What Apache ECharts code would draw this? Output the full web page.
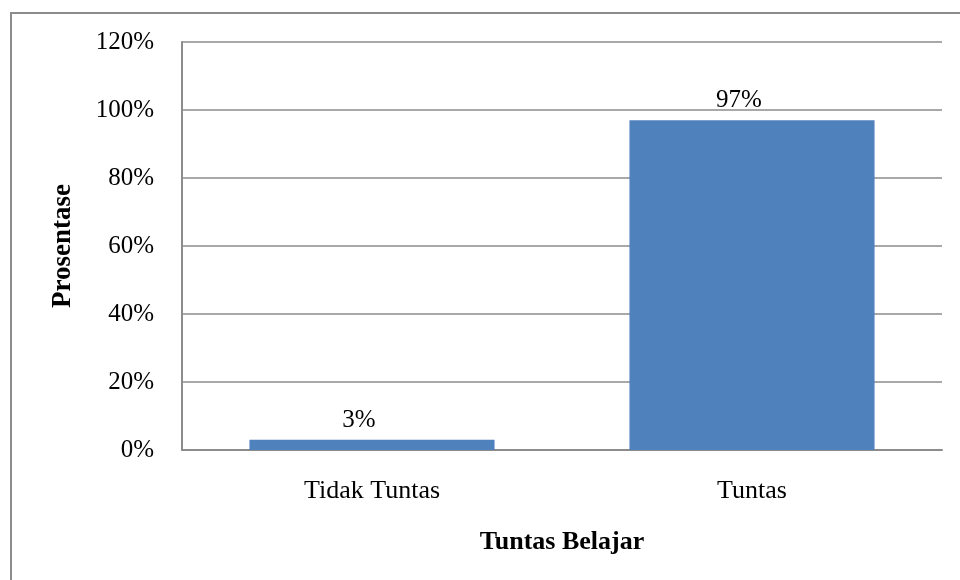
<!DOCTYPE html>
<html><head><meta charset="utf-8">
<script src="https://cdn.jsdelivr.net/npm/echarts@6/dist/echarts.min.js"></script>
<style>html,body{margin:0;padding:0;background:#fff}#c{width:960px;height:580px}</style>
</head><body><div id="c"></div>
<script>
const categories = ['Tidak Tuntas', 'Tuntas'];
const values = [3, 97];
const yTicks = [0, 20, 40, 60, 80, 100, 120];

const chart = echarts.init(document.getElementById('c'), null, {renderer: 'canvas'});
const F = '"Liberation Serif", "Times New Roman", serif';
chart.setOption({
  animation: false,
  textStyle: {fontFamily: F},
  graphic: [{
    type: 'polyline', silent: true,
    shape: {points: [[11, 580], [11, 13], [960, 13]]},
    style: {stroke: '#8c8c8c', lineWidth: 2, fill: null}
  }],
  grid: {left: 182, right: 18, top: 42, bottom: 130},
  xAxis: {
    type: 'category', data: categories,
    axisTick: {show: false},
    axisLine: {lineStyle: {color: '#8c8c8c', width: 2}},
    axisLabel: {color: '#000', fontSize: 26, fontFamily: F, margin: 28},
    name: 'Tuntas Belajar', nameLocation: 'middle', nameGap: 79,
    nameTextStyle: {color: '#000', fontSize: 26, fontWeight: 'bold', fontFamily: F}
  },
  yAxis: {
    type: 'value', min: 0, max: 120, interval: 20,
    axisLine: {show: true, lineStyle: {color: '#8c8c8c', width: 2}},
    axisTick: {show: false},
    splitLine: {lineStyle: {color: '#8c8c8c', width: 1.5}},
    axisLabel: {color: '#000', fontSize: 25, fontFamily: F, margin: 28,
      formatter: v => yTicks.includes(v) ? v + '%' : ''},
    name: 'Prosentase', nameLocation: 'middle', nameGap: 105, nameRotate: 90,
    nameTextStyle: {color: '#000', fontSize: 27, fontWeight: 'bold', fontFamily: F}
  },
  series: [{
    type: 'bar', data: values, barWidth: '64.5%',
    itemStyle: {color: '#4f81bd'},
    label: {show: true, position: 'top', distance: 7, offset: [-13, 0], color: '#000', fontSize: 25,
      fontFamily: F, formatter: p => p.value + '%'}
  }]
});
</script></body></html>
